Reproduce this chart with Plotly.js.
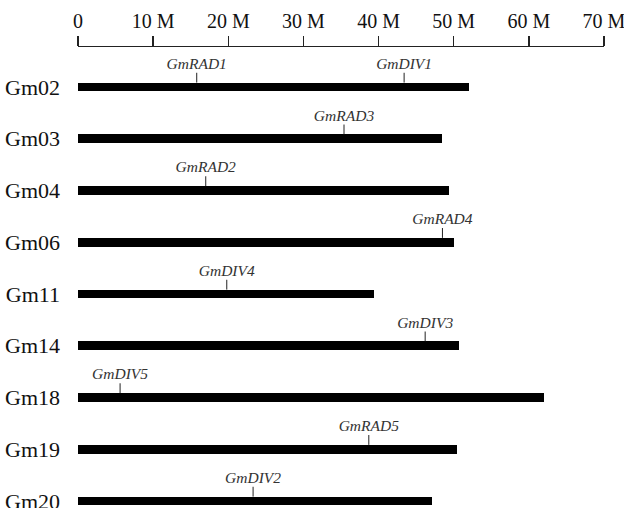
<!DOCTYPE html>
<html>
<head>
<meta charset="utf-8">
<script src="https://cdn.plot.ly/plotly-3.0.1.min.js"></script>
<style>html,body{margin:0;padding:0;background:#fff;}#chart{width:624px;height:508px;}</style>
</head>
<body>
<div id="chart"></div>
<script>
// Chromosomes and their lengths (Mb)
const chromosomes = ["Gm02","Gm03","Gm04","Gm06","Gm11","Gm14","Gm18","Gm19","Gm20"];
const lengths = [52.0, 48.4, 49.4, 50.1, 39.4, 50.7, 62.0, 50.4, 47.1];

// Gene positions (Mb)
const geneNames = ["GmRAD1","GmDIV1","GmRAD3","GmRAD2","GmRAD4","GmDIV4","GmDIV3","GmDIV5","GmRAD5","GmDIV2"];
const geneChrom = ["Gm02","Gm02","Gm03","Gm04","Gm06","Gm11","Gm14","Gm18","Gm19","Gm20"];
const genePos = [15.8, 43.4, 35.4, 17.0, 48.5, 19.8, 46.2, 5.6, 38.7, 23.3];

// Axis ticks
const tickVals = [0,10,20,30,40,50,60,70];
const tickText = ["0","10 M","20 M","30 M","40 M","50 M","60 M","70 M"];

const idx = chromosomes.map((c,i)=>i);
const barHalf = 0.085;   // half bar thickness (row units)
const tickLen = 0.19;    // marker tick height (row units)

const traces = [];
traces.push({
  type: "bar", orientation: "h",
  y: idx, x: lengths, base: 0, width: barHalf*2,
  marker: {color: "#000", line: {width: 0}},
  hoverinfo: "skip", showlegend: false
});

// Tick lines for genes
const lx = [], ly = [];
geneNames.forEach((g,i)=>{
  const r = chromosomes.indexOf(geneChrom[i]);
  lx.push(genePos[i], genePos[i], null);
  ly.push(r - barHalf, r - barHalf - tickLen, null);
});
traces.push({
  type: "scatter", mode: "lines", x: lx, y: ly,
  line: {color: "#222", width: 1}, hoverinfo: "skip", showlegend: false
});
// Gene labels
traces.push({
  type: "scatter", mode: "text",
  x: genePos,
  y: geneNames.map((g,i)=>chromosomes.indexOf(geneChrom[i]) - barHalf - tickLen),
  text: geneNames.map(g=>"<i>"+g+"</i>"),
  textposition: "top center",
  textfont: {family: "Liberation Serif", size: 15.5, color: "#333"},
  cliponaxis: false, hoverinfo: "skip", showlegend: false
});

const layout = {
  width: 624, height: 508,
  margin: {l: 78.3, r: 19.7, t: 47, b: 0, pad: 0},
  paper_bgcolor: "#fff", plot_bgcolor: "#fff",
  font: {family: "Liberation Serif", color: "#111"},
  xaxis: {
    side: "top", range: [0, 70], tickvals: tickVals, ticktext: tickText,
    showline: true, linecolor: "#222", linewidth: 1.5,
    ticks: "outside", ticklen: 10, tickwidth: 1.5, tickcolor: "#222",
    ticklabeloverflow: "allow",
    tickfont: {family: "Liberation Serif", size: 20, color: "#111"},
    showgrid: false, zeroline: false, fixedrange: true
  },
  yaxis: {
    range: [8.135, -0.773], tickvals: idx, ticktext: chromosomes,
    showline: false, showgrid: false, zeroline: false, ticks: "",
    ticklabelstandoff: 17, ticklabeloverflow: "allow",
    tickfont: {family: "Liberation Serif", size: 22, color: "#111"},
    fixedrange: true
  },
  bargap: 0
};

Plotly.newPlot("chart", traces, layout, {staticPlot: true, displayModeBar: false});
</script>
</body>
</html>
